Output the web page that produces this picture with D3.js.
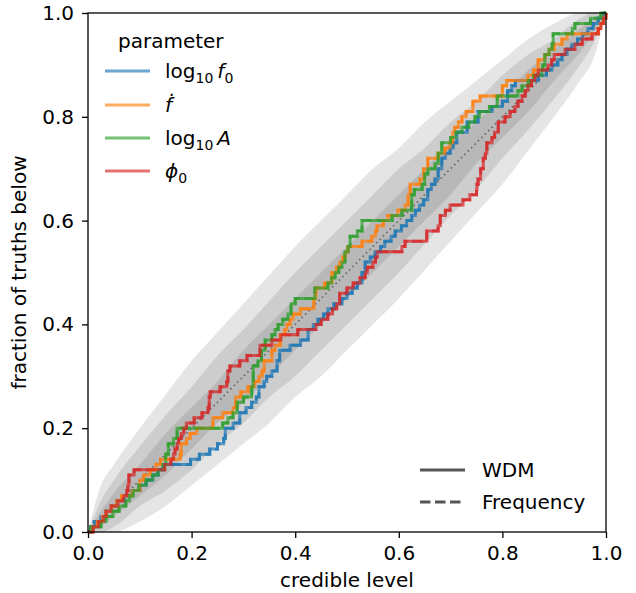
<!DOCTYPE html>
<meta charset="utf-8">
<script src="https://cdn.jsdelivr.net/npm/d3@7"></script>
<style>
  body { margin: 0; background: #fff; }
  text { font-family: "DejaVu Sans", sans-serif; }
</style>
<div id="pp_plot"></div>
<script>

// ---- data ----
// confidence bands: credible level vs lower / upper fraction
var bandX  = [0, 0.025, 0.05, 0.1, 0.15, 0.2, 0.25, 0.3, 0.35, 0.4, 0.45, 0.5, 0.55, 0.6, 0.65, 0.7, 0.75, 0.8, 0.85, 0.9, 0.95, 0.975, 1];
var lo997  = [0, 0, 0, 0.02, 0.05, 0.09, 0.13, 0.17, 0.21, 0.26, 0.30, 0.35, 0.40, 0.45, 0.505, 0.56, 0.615, 0.67, 0.735, 0.80, 0.87, 0.91, 1];
var hi997  = [0, 0.09, 0.13, 0.20, 0.265, 0.33, 0.385, 0.44, 0.495, 0.55, 0.60, 0.65, 0.70, 0.74, 0.79, 0.83, 0.87, 0.91, 0.95, 0.98, 1, 1, 1];
var lo95   = [0, 0, 0.01, 0.05, 0.08, 0.12, 0.17, 0.21, 0.26, 0.30, 0.35, 0.40, 0.45, 0.50, 0.555, 0.61, 0.66, 0.72, 0.775, 0.835, 0.90, 0.94, 1];
var hi95   = [0, 0.06, 0.10, 0.165, 0.225, 0.28, 0.34, 0.39, 0.445, 0.50, 0.55, 0.60, 0.65, 0.70, 0.74, 0.79, 0.83, 0.88, 0.92, 0.95, 0.99, 1, 1];
var lo68   = [0, 0.01, 0.03, 0.07, 0.11, 0.16, 0.21, 0.25, 0.30, 0.35, 0.40, 0.45, 0.50, 0.55, 0.60, 0.65, 0.71, 0.76, 0.81, 0.87, 0.925, 0.96, 1];
var hi68   = [0, 0.04, 0.075, 0.13, 0.19, 0.24, 0.29, 0.35, 0.40, 0.45, 0.50, 0.55, 0.60, 0.65, 0.70, 0.75, 0.79, 0.84, 0.89, 0.93, 0.97, 0.99, 1];

// P-P curves: [credible level, fraction of truths below] at each step
var ppLogF0 = [[0,0],[0.005,0.01],[0.012,0.02],[0.025,0.03],[0.035,0.04],[0.045,0.05],[0.055,0.06],[0.07,0.07],[0.085,0.08],[0.1,0.09],[0.112,0.1],[0.125,0.11],[0.135,0.12],[0.145,0.13],[0.198,0.14],[0.215,0.15],[0.235,0.16],[0.25,0.17],[0.262,0.18],[0.265,0.2],[0.28,0.21],[0.293,0.23],[0.305,0.24],[0.316,0.25],[0.325,0.26],[0.33,0.28],[0.34,0.29],[0.345,0.3],[0.355,0.31],[0.365,0.33],[0.37,0.35],[0.39,0.36],[0.41,0.37],[0.425,0.39],[0.435,0.4],[0.444,0.41],[0.455,0.42],[0.463,0.43],[0.475,0.44],[0.49,0.45],[0.5,0.46],[0.51,0.47],[0.52,0.48],[0.529,0.5],[0.535,0.52],[0.545,0.53],[0.554,0.54],[0.565,0.55],[0.573,0.56],[0.585,0.57],[0.593,0.58],[0.605,0.59],[0.615,0.6],[0.625,0.61],[0.632,0.62],[0.64,0.63],[0.648,0.64],[0.656,0.66],[0.663,0.67],[0.67,0.68],[0.676,0.7],[0.683,0.72],[0.69,0.73],[0.699,0.74],[0.705,0.75],[0.712,0.77],[0.732,0.79],[0.753,0.81],[0.78,0.82],[0.8,0.83],[0.81,0.85],[0.818,0.86],[0.825,0.87],[0.869,0.88],[0.885,0.89],[0.896,0.9],[0.907,0.91],[0.915,0.92],[0.925,0.93],[0.934,0.94],[0.945,0.95],[0.955,0.96],[0.965,0.97],[0.975,0.98],[0.985,0.99],[0.995,1],[1,1]];
var ppFdot = [[0,0],[0.008,0.01],[0.018,0.02],[0.028,0.03],[0.035,0.04],[0.045,0.05],[0.055,0.06],[0.065,0.07],[0.085,0.08],[0.1,0.1],[0.108,0.11],[0.12,0.12],[0.131,0.13],[0.14,0.14],[0.178,0.15],[0.18,0.17],[0.19,0.18],[0.197,0.19],[0.21,0.2],[0.241,0.22],[0.26,0.23],[0.28,0.24],[0.285,0.26],[0.295,0.27],[0.309,0.28],[0.322,0.29],[0.33,0.3],[0.336,0.31],[0.34,0.33],[0.355,0.35],[0.361,0.36],[0.371,0.38],[0.38,0.39],[0.384,0.4],[0.39,0.41],[0.396,0.42],[0.41,0.43],[0.436,0.45],[0.44,0.47],[0.457,0.48],[0.471,0.5],[0.48,0.51],[0.486,0.52],[0.492,0.53],[0.497,0.54],[0.502,0.55],[0.529,0.56],[0.548,0.57],[0.555,0.58],[0.558,0.59],[0.57,0.6],[0.579,0.61],[0.598,0.62],[0.612,0.63],[0.618,0.65],[0.622,0.67],[0.641,0.68],[0.648,0.7],[0.656,0.72],[0.676,0.73],[0.689,0.74],[0.699,0.75],[0.704,0.77],[0.708,0.78],[0.715,0.79],[0.722,0.8],[0.73,0.81],[0.743,0.83],[0.757,0.84],[0.8,0.86],[0.808,0.87],[0.849,0.88],[0.86,0.89],[0.869,0.91],[0.882,0.92],[0.89,0.93],[0.9,0.94],[0.915,0.95],[0.925,0.96],[0.985,0.97],[0.99,0.98],[0.995,0.99],[1,1]];
var ppLogA = [[0,0],[0.005,0.01],[0.025,0.02],[0.035,0.03],[0.048,0.04],[0.06,0.05],[0.073,0.06],[0.08,0.07],[0.087,0.08],[0.098,0.09],[0.112,0.1],[0.125,0.11],[0.135,0.12],[0.145,0.13],[0.15,0.15],[0.155,0.17],[0.165,0.18],[0.172,0.2],[0.26,0.21],[0.27,0.22],[0.28,0.23],[0.288,0.25],[0.3,0.26],[0.316,0.28],[0.319,0.32],[0.328,0.33],[0.335,0.35],[0.342,0.37],[0.355,0.38],[0.361,0.39],[0.367,0.4],[0.376,0.41],[0.386,0.42],[0.392,0.44],[0.4,0.45],[0.438,0.47],[0.463,0.48],[0.47,0.49],[0.477,0.5],[0.484,0.51],[0.49,0.52],[0.496,0.54],[0.502,0.55],[0.506,0.57],[0.52,0.58],[0.529,0.6],[0.587,0.61],[0.606,0.62],[0.625,0.65],[0.63,0.66],[0.645,0.67],[0.65,0.69],[0.656,0.7],[0.67,0.71],[0.676,0.73],[0.683,0.75],[0.7,0.76],[0.71,0.77],[0.722,0.78],[0.735,0.79],[0.747,0.8],[0.756,0.81],[0.775,0.82],[0.79,0.84],[0.83,0.85],[0.838,0.86],[0.85,0.87],[0.86,0.88],[0.876,0.89],[0.878,0.9],[0.882,0.92],[0.89,0.93],[0.896,0.94],[0.898,0.96],[0.935,0.97],[0.94,0.98],[0.97,0.99],[0.99,1],[1,1]];
var ppPhi0 = [[0,0],[0.01,0.01],[0.02,0.02],[0.03,0.03],[0.035,0.04],[0.045,0.05],[0.058,0.06],[0.068,0.07],[0.075,0.08],[0.077,0.09],[0.079,0.11],[0.089,0.12],[0.148,0.13],[0.16,0.14],[0.165,0.15],[0.168,0.16],[0.172,0.17],[0.175,0.18],[0.18,0.19],[0.185,0.2],[0.19,0.21],[0.205,0.22],[0.22,0.23],[0.232,0.24],[0.234,0.26],[0.236,0.27],[0.255,0.28],[0.268,0.29],[0.27,0.31],[0.274,0.32],[0.293,0.33],[0.307,0.34],[0.332,0.36],[0.355,0.37],[0.372,0.38],[0.405,0.39],[0.44,0.4],[0.45,0.41],[0.463,0.42],[0.472,0.43],[0.48,0.44],[0.486,0.46],[0.5,0.47],[0.512,0.48],[0.525,0.49],[0.535,0.5],[0.539,0.51],[0.55,0.52],[0.555,0.53],[0.558,0.54],[0.606,0.55],[0.612,0.56],[0.654,0.58],[0.676,0.59],[0.68,0.61],[0.69,0.62],[0.699,0.63],[0.724,0.64],[0.737,0.65],[0.75,0.66],[0.751,0.67],[0.753,0.68],[0.758,0.7],[0.763,0.72],[0.767,0.73],[0.77,0.75],[0.78,0.76],[0.785,0.77],[0.792,0.79],[0.805,0.8],[0.815,0.81],[0.824,0.82],[0.83,0.83],[0.838,0.84],[0.844,0.85],[0.849,0.86],[0.856,0.87],[0.863,0.88],[0.869,0.89],[0.888,0.9],[0.895,0.91],[0.9,0.92],[0.921,0.93],[0.94,0.94],[0.954,0.95],[0.973,0.96],[0.985,0.97],[0.99,0.98],[0.995,0.99],[1,1]];

var paramSeries = [ppLogF0, ppFdot, ppLogA, ppPhi0];
var paramColors = ["#1f77b4", "#ff7f0e", "#2ca02c", "#d62728"];
var methods = ["WDM", "Frequency"];
var tickVals = [0, 0.2, 0.4, 0.6, 0.8, 1.0];

// ---- layout ----
var margin = {top: 13, right: 30, bottom: 61, left: 88},
    width = 636 - margin.left - margin.right,
    height = 593 - margin.top - margin.bottom;

var svg = d3.select("#pp_plot")
  .append("svg")
    .attr("width", width + margin.left + margin.right)
    .attr("height", height + margin.top + margin.bottom)
  .append("g")
    .attr("transform", "translate(" + margin.left + "," + margin.top + ")");

var x = d3.scaleLinear().domain([0, 1]).range([0, width]);
var y = d3.scaleLinear().domain([0, 1]).range([height, 0]);

// confidence bands (stacked translucent black, like matplotlib alpha)
var bands = [[lo997, hi997], [lo95, hi95], [lo68, hi68]];
bands.forEach(function(b) {
  var area = d3.area()
    .x(function(d, i) { return x(bandX[i]); })
    .y0(function(d, i) { return y(b[0][i]); })
    .y1(function(d, i) { return y(b[1][i]); })
    .curve(d3.curveMonotoneX);
  svg.append("path")
    .datum(bandX)
    .attr("d", area)
    .style("fill", "black")
    .style("opacity", 0.1);
});

// diagonal
svg.append("line")
  .attr("x1", x(0)).attr("y1", y(0))
  .attr("x2", x(1)).attr("y2", y(1))
  .style("stroke", "#666")
  .style("stroke-width", 1.6)
  .style("stroke-dasharray", "1.6,3.2");

// P-P lines: WDM solid, Frequency dashed on top
var line = d3.line()
  .x(function(d) { return x(d[0]); })
  .y(function(d) { return y(d[1]); })
  .curve(d3.curveStepAfter);

methods.forEach(function(m, mi) {
  paramSeries.forEach(function(s, i) {
    svg.append("path")
      .datum(s)
      .attr("d", line)
      .style("fill", "none")
      .style("stroke", paramColors[i])
      .style("stroke-width", 3)
      .style("stroke-linejoin", "miter")
      .style("opacity", 0.72)
      .style("stroke-dasharray", mi == 1 ? "10.5,4.5" : null);
  });
});

// axes
var xAxis = svg.append("g")
  .attr("transform", "translate(0," + height + ")")
  .call(d3.axisBottom(x).tickValues(tickVals).tickFormat(d3.format(".1f")).tickSize(6).tickPadding(8));
var yAxis = svg.append("g")
  .call(d3.axisLeft(y).tickValues(tickVals).tickFormat(d3.format(".1f")).tickSize(6).tickPadding(8));
[xAxis, yAxis].forEach(function(a) {
  a.select(".domain").remove();
  a.selectAll("line").style("stroke", "black").style("stroke-width", 1.3);
  a.selectAll("text").style("font-size", "20px").style("fill", "black")
    .style("font-family", "DejaVu Sans, sans-serif");
});

// frame
svg.append("rect")
  .attr("x", 0).attr("y", 0)
  .attr("width", width).attr("height", height)
  .style("fill", "none")
  .style("stroke", "black")
  .style("stroke-width", 1.3);

// axis labels
svg.append("text")
  .attr("text-anchor", "middle")
  .attr("x", width / 2)
  .attr("y", height + 55)
  .style("font-size", "20px")
  .text("credible level");

svg.append("text")
  .attr("text-anchor", "middle")
  .attr("transform", "rotate(-90)")
  .attr("x", -height / 2)
  .attr("y", -62)
  .style("font-size", "20px")
  .text("fraction of truths below");

// parameter legend
var leg = svg.append("g").attr("transform", "translate(" + (-margin.left) + "," + (-margin.top) + ")");
leg.append("text")
  .attr("x", 118).attr("y", 48)
  .style("font-size", "20px")
  .text("parameter");

var rowY = [71, 105, 138, 171];
rowY.forEach(function(ry, i) {
  leg.append("line")
    .attr("x1", 105).attr("x2", 150)
    .attr("y1", ry).attr("y2", ry)
    .style("stroke", paramColors[i])
    .style("stroke-width", 3)
    .style("opacity", 0.65);
});

function sub(t, s) {
  t.append("tspan").attr("dy", 5).style("font-size", "14px").text(s);
  t.append("tspan").attr("dy", -5).text("\u2009");
}
var t0 = leg.append("text").attr("x", 165).attr("y", rowY[0] + 7).style("font-size", "20px");
t0.append("tspan").text("log");
sub(t0, "10");
t0.append("tspan").style("font-style", "italic").text("f");
t0.append("tspan").attr("dy", 5).style("font-size", "14px").text("0");

var t1 = leg.append("text").attr("x", 165).attr("y", rowY[1] + 7).style("font-size", "20px");
t1.append("tspan").style("font-style", "italic").text("\u1E1F");

var t2 = leg.append("text").attr("x", 165).attr("y", rowY[2] + 7).style("font-size", "20px");
t2.append("tspan").text("log");
sub(t2, "10");
t2.append("tspan").style("font-style", "italic").text("A");

var t3 = leg.append("text").attr("x", 165).attr("y", rowY[3] + 7).style("font-size", "20px");
t3.append("tspan").style("font-style", "italic").text("\u03D5");
t3.append("tspan").attr("dy", 5).style("font-size", "14px").text("0");

// method legend
var mRowY = [470, 502];
methods.forEach(function(m, i) {
  leg.append("line")
    .attr("x1", 420).attr("x2", 465)
    .attr("y1", mRowY[i]).attr("y2", mRowY[i])
    .style("stroke", "#555")
    .style("stroke-width", 2.8)
    .style("stroke-dasharray", i == 1 ? "10.5,4.5" : null);
  leg.append("text")
    .attr("x", 482).attr("y", mRowY[i] + 7)
    .style("font-size", "20px")
    .text(m);
});

</script>
